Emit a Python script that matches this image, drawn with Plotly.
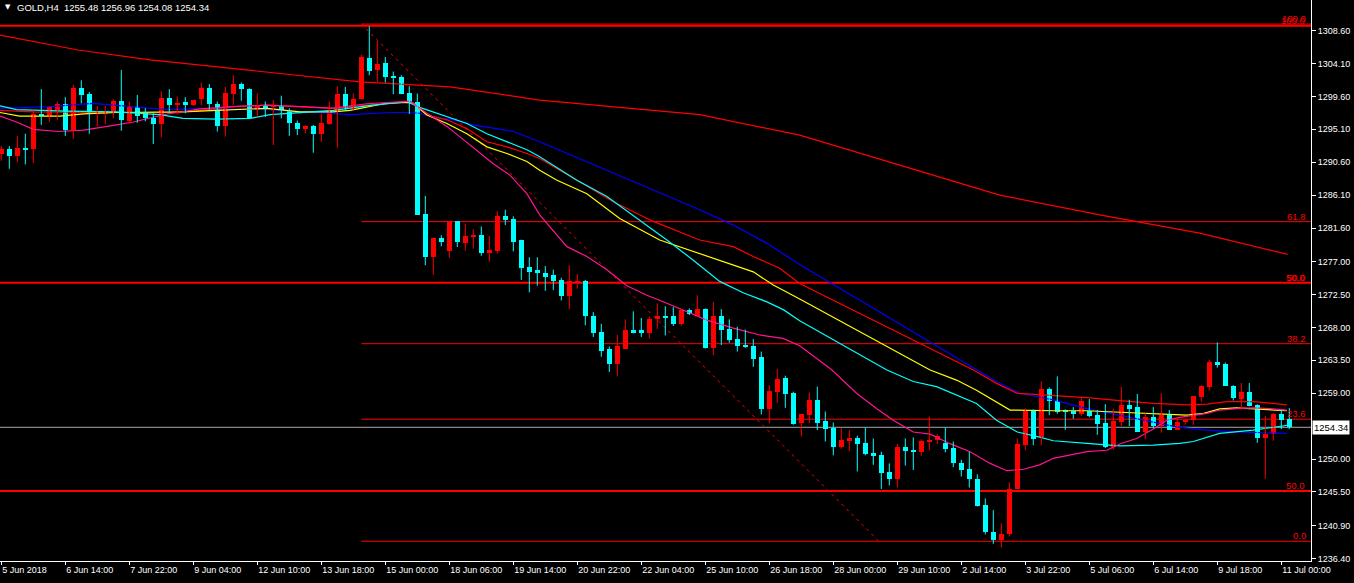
import plotly.graph_objects as go

# ---------------- DATA ----------------
opens = [1291.72,1292.45,1291.45,1292.6,1292.45,1297.2,1296.9,1297.8,1298.6,1295.0,
         1300.75,1299.9,1297.2,1297.3,1297.5,1298.97,1296.2,1298.1,1297.3,1296.7,
         1295.8,1299.4,1298.4,1298.8,1298.4,1299.25,1300.75,1298.6,1295.6,1300.0,
         1301.3,1300.6,1297.97,1298.4,1298.2,1298.3,1297.65,1296.0,1295.1,1295.5,
         1294.5,1295.8,1297.65,1299.9,1297.97,1299.3,1304.9,1303.2,1304.2,1302.4,
         1302.3,1300.1,1298.9,1283.5,1277.7,1280.3,1278.4,1282.5,1279.6,1280.4,
         1280.6,1278.2,1278.5,1283.2,1282.8,1279.9,1276.2,1275.8,1275.5,1275.2,
         1274.5,1272.3,1274.2,1274.4,1269.6,1267.4,1265.05,1263.0,1265.05,1267.65,
         1267.6,1267.3,1269.1,1269.6,1269.5,1268.5,1270.4,1269.5,1270.5,1265.2,
         1269.5,1267.8,1266.4,1265.6,1265.5,1263.9,1256.8,1259.2,1261.1,1259.0,
         1254.9,1256.0,1258.07,1255.2,1254.3,1251.7,1252.5,1252.9,1252.2,1250.8,
         1250.5,1248.2,1247.3,1251.6,1251.1,1251.0,1252.4,1252.6,1252.2,1251.5,
         1249.5,1248.6,1247.3,1243.7,1240.0,1238.9,1239.8,1245.9,1251.9,1256.6,
         1253.06,1259.6,1257.9,1256.7,1256.6,1256.2,1256.6,1256.0,1254.9,1251.7,
         1255.1,1257.4,1257.1,1253.7,1255.7,1254.5,1256.0,1254.0,1255.1,1255.4,
         1258.5,1259.9,1263.3,1263.0,1260.0,1258.2,1259.2,1257.4,1252.9,1253.4,
         1256.2,1255.48]
highs = [1292.8,1292.8,1294.2,1294.5,1297.7,1300.6,1298.2,1298.9,1299.5,1301.2,
         1301.8,1300.2,1298.3,1298.3,1299.2,1303.2,1298.9,1299.8,1298.0,1297.3,
         1300.3,1300.6,1299.6,1299.5,1299.1,1301.5,1301.3,1298.9,1300.9,1302.5,
         1301.5,1300.7,1300.0,1298.9,1299.1,1299.7,1297.97,1296.3,1295.7,1295.7,
         1297.2,1298.9,1301.0,1300.9,1300.0,1305.3,1309.2,1307.2,1305.0,1303.0,
         1302.5,1301.0,1300.0,1286.0,1280.3,1280.6,1282.5,1282.5,1282.2,1281.4,
         1281.8,1280.5,1283.9,1284.1,1283.2,1280.0,1277.6,1277.6,1276.4,1275.9,
         1274.8,1276.5,1275.3,1274.5,1270.1,1268.5,1265.4,1266.96,1269.1,1270.2,
         1269.3,1269.5,1271.3,1270.9,1270.8,1270.5,1270.6,1272.4,1270.6,1271.5,
         1270.5,1269.1,1268.1,1267.7,1266.4,1264.7,1260.1,1262.3,1261.4,1259.2,
         1256.15,1259.07,1259.9,1256.5,1255.0,1254.3,1253.96,1253.2,1254.3,1252.8,
         1251.0,1249.4,1252.05,1252.8,1252.96,1252.7,1255.8,1253.4,1254.3,1252.4,
         1249.9,1251.0,1247.9,1244.6,1243.0,1241.2,1246.8,1252.8,1256.9,1256.8,
         1260.6,1259.8,1261.3,1256.8,1257.1,1258.5,1258.2,1256.7,1257.5,1256.9,
         1259.9,1258.1,1258.9,1256.25,1257.1,1259.0,1256.7,1255.7,1255.4,1258.6,
         1260.1,1263.6,1265.96,1263.2,1260.1,1260.4,1260.4,1257.5,1255.9,1256.3,
         1256.7,1256.96]
lows = [1290.8,1289.7,1290.6,1290.3,1290.5,1295.7,1296.1,1296.4,1294.2,1293.8,
        1298.65,1294.5,1295.5,1295.8,1296.6,1294.9,1295.9,1296.0,1296.2,1293.1,
        1294.0,1297.3,1297.1,1297.3,1298.3,1298.4,1297.8,1294.8,1294.1,1298.4,
        1299.0,1296.5,1296.8,1296.8,1292.95,1296.6,1294.2,1294.3,1294.55,1291.9,
        1293.4,1295.7,1292.6,1297.65,1297.65,1299.2,1302.5,1301.6,1301.5,1299.9,
        1299.9,1297.2,1283.4,1276.5,1275.2,1279.1,1277.5,1279.0,1278.5,1278.8,
        1277.8,1277.0,1278.1,1282.0,1278.4,1274.5,1272.8,1273.7,1273.0,1273.1,
        1271.7,1270.5,1273.3,1268.3,1266.7,1264.0,1261.9,1261.3,1265.05,1267.2,
        1266.7,1266.5,1267.8,1266.9,1268.2,1268.2,1269.7,1269.5,1265.1,1264.2,
        1265.6,1265.9,1264.7,1265.2,1262.6,1256.1,1254.9,1257.7,1257.0,1254.7,
        1253.1,1254.9,1253.96,1252.4,1250.5,1251.4,1251.1,1248.3,1250.5,1249.2,
        1245.9,1246.4,1246.1,1249.1,1248.5,1250.45,1251.2,1252.05,1250.9,1248.9,
        1247.6,1246.1,1243.5,1239.7,1238.4,1237.9,1239.4,1245.9,1251.2,1251.9,
        1251.9,1256.0,1256.2,1254.0,1255.5,1255.9,1255.7,1253.3,1251.5,1251.3,
        1254.5,1254.5,1253.7,1252.7,1254.2,1253.6,1254.0,1254.0,1254.7,1254.65,
        1257.85,1259.35,1262.5,1260.0,1258.0,1256.8,1257.2,1252.2,1247.3,1252.5,
        1254.1,1254.08]
closes = [1292.45,1291.45,1292.6,1292.4,1297.2,1296.9,1298.1,1298.6,1295.0,1300.75,
          1299.8,1297.2,1297.5,1297.5,1298.97,1296.4,1298.2,1296.9,1296.6,1295.8,
          1299.4,1298.4,1298.75,1298.4,1299.1,1300.75,1298.6,1295.6,1300.1,1301.3,
          1300.6,1296.6,1298.3,1297.8,1298.4,1297.7,1295.9,1295.1,1295.5,1294.5,
          1296.0,1297.8,1299.9,1297.97,1299.3,1304.95,1303.1,1304.1,1302.2,1302.1,
          1299.9,1298.9,1283.4,1277.7,1280.3,1279.7,1282.5,1279.7,1280.5,1280.6,
          1278.2,1278.6,1283.2,1282.7,1279.7,1276.1,1275.6,1275.5,1274.9,1274.4,
          1272.3,1274.4,1274.4,1269.5,1267.2,1264.8,1263.0,1265.4,1267.6,1267.3,
          1267.3,1269.15,1269.6,1269.4,1268.5,1270.4,1269.8,1270.5,1265.2,1269.5,
          1267.65,1266.3,1265.4,1265.4,1263.7,1256.8,1259.3,1260.9,1258.9,1254.8,
          1256.15,1258.07,1254.97,1254.1,1251.7,1252.6,1252.9,1252.1,1250.7,1250.4,
          1248.1,1247.3,1251.6,1251.1,1251.0,1252.5,1252.6,1253.1,1251.4,1249.5,
          1248.5,1247.2,1243.6,1239.96,1238.9,1239.8,1245.9,1252.05,1256.7,1252.7,
          1259.6,1257.9,1256.5,1256.4,1256.2,1257.9,1255.9,1254.8,1251.6,1255.2,
          1257.4,1256.9,1253.7,1255.7,1254.5,1256.0,1254.0,1255.1,1255.15,1258.6,
          1260.0,1263.3,1262.9,1260.0,1258.3,1259.2,1257.25,1252.9,1253.4,1256.2,
          1255.4,1254.34]

# moving averages (bar position, price)
ma_blue_x = [-0.16,6.1,11.5,16.5,20.7,24.8,33.2,43.6,48.6,50.7,52.3,54,56.5,59,61.5,64,67.3,
             78.6,83.2,87.3,91.5,95.7,99.8,121.9,124.4,127.3,131.5,135.7,139.8,144,146.9,150.3,154.4,160.7]
ma_blue_y = [1297.97,1298.2,1298.65,1298.2,1297.8,1297.9,1297.8,1297.1,1297.4,1297.4,1297.3,1296.8,1296.4,1295.7,1295.2,1294.8,1293.4,
             1288.17,1286.1,1284.1,1282.0,1279.5,1276.6,1262.17,1260.6,1258.99,1258.1,1256.9,1256.0,1255.1,1254.4,1254.0,1253.7,1253.5]

ma_red_x = [-0.16,4,12.3,20.7,24.8,29,33.2,41.5,45.7,49.8,51.5,53.2,55.7,58.2,60.7,63.2,65.7,67.3,
            71.9,76.5,81.5,87.3,91.5,94,97.3,99.8,121.5,124.4,127,131.5,135.7,139.8,144,148.2,150.7,153.2,156.5,159,160.7]
ma_red_y = [1297.7,1297.5,1297.4,1297.4,1297.7,1298.2,1298.4,1297.97,1298.4,1298.75,1298.6,1297.05,1296.4,1295.2,1293.4,1292.7,1291.8,1291.1,
            1288.17,1285.2,1282.5,1279.96,1279.05,1277.7,1276.1,1274.0,1262.17,1260.35,1258.98,1258.7,1258.4,1258.0,1257.6,1257.4,1257.5,1257.85,1257.85,1257.6,1257.4]

ma_yellow_x = [-0.16,2.3,7.3,10.3,14.4,22.7,26.9,33.2,37.3,41.5,43.6,45.7,47.8,50.7,51.5,53.2,55.7,58.2,60.7,63.2,65.7,67.3,
               69.4,73.2,77.3,82.3,87.3,91.5,94,96.5,99.8,116.1,119.4,121.9,124.4,126.1,131.5,135.7,139.8,144,148.2,150.3,152.3,154.4,156.5,159,160.7]
ma_yellow_y = [1297.4,1296.9,1296.9,1297.2,1297.4,1297.5,1297.7,1297.97,1297.5,1297.5,1297.7,1298.2,1298.6,1298.8,1298.65,1297.05,1295.9,1294.5,1292.7,1291.8,1290.7,1289.5,
               1288.17,1286.3,1282.9,1279.96,1278.1,1276.5,1275.6,1273.8,1271.9,1262.17,1260.8,1259.4,1257.8,1256.7,1256.6,1256.6,1256.4,1256.2,1256.0,1256.25,1256.85,1257.0,1256.9,1256.7,1256.6]

ma_cyan_x = [-0.16,1.9,8.2,14.4,19.8,22.7,26.9,31.1,33.6,37.3,41.5,45.7,49.8,50.7,52.3,55.7,58.2,60.7,63.2,65.7,67.3,
             71.9,75.7,79.8,83.2,86.5,89.8,92.8,95.7,97.8,99.8,110.7,114,116.9,119.4,121.9,124.4,127,129.8,131.5,135.7,139.8,144,147.3,149,150.7,152.3,156.5,159.8,161]
ma_cyan_y = [1298.3,1297.8,1297.6,1297.5,1297.1,1296.6,1296.5,1296.6,1297.1,1297.4,1297.7,1298.3,1298.75,1298.9,1298.1,1296.8,1295.9,1294.5,1293.4,1292.3,1291.35,
             1288.17,1285.9,1282.7,1279.96,1277.2,1274.3,1272.7,1271.5,1270.4,1268.9,1262.17,1260.6,1259.9,1258.75,1257.6,1255.3,1253.7,1253.0,1252.5,1252.15,1251.8,1251.9,1252.15,1252.4,1252.96,1253.5,1253.95,1254.4,1254.65]

ma_pink_x = [-0.16,1.9,4,7.1,10.3,12.3,14.4,16.5,18.6,20.7,22.7,24.8,29,33.2,41.5,45.7,51.1,53.2,55.7,57.3,59.4,61.5,63.6,65.7,67.3,
             70.7,73.2,75.7,78.2,80.7,83.2,85.7,88.2,91.5,94.8,97.7,99.8,103.8,106.9,109.4,111.5,114,116.1,118.6,121.1,123.6,125.7,127.8,129.8,
             131.5,135.7,138.2,139.8,141.9,144,145.7,147.3,150.7,152.3,154.4,156.5,158.6,160.7]
ma_pink_y = [1296.9,1296.1,1295.1,1294.8,1295.0,1295.3,1295.7,1296.1,1296.6,1297.2,1297.5,1297.9,1298.2,1298.4,1298.0,1298.6,1298.95,1297.3,1295.5,1294.1,1292.3,1290.4,1288.8,1286.3,1283.4,
             1279.05,1277.7,1275.9,1273.7,1272.4,1271.3,1270.2,1269.0,1267.9,1266.97,1266.5,1265.5,1262.2,1259.0,1256.9,1255.3,1253.7,1253.4,1252.1,1251.0,1249.4,1248.4,1248.6,1249.2,
             1250.1,1251.0,1251.2,1252.05,1252.8,1254.1,1255.3,1255.7,1256.25,1256.7,1256.9,1257.0,1256.9,1256.7]

ma_long_x = [-0.16,9.6,18.6,33.6,44.8,56.1,67.3,87.3,99.8,112.3,124.8,137.3,149.8,160.8]
ma_long_y = [1308.0,1305.95,1304.6,1302.9,1301.6,1300.9,1299.1,1297.1,1294.3,1290.2,1286.1,1283.4,1280.9,1278.0]

# Fibonacci retracement
fib_start_bar, fib_end_bar = 45, 109.7
fib_high, fib_low = 1309.5, 1238.75
fib_levels = [0.0, 23.6, 38.2, 50.0, 61.8, 100.0]
thick_levels = [1309.27, 1274.12, 1245.62]
thick_labels = ["100.0", "50.0", "50.0"]
last_price = 1254.34

y_ticks = [1308.60,1304.10,1299.60,1295.10,1290.60,1286.10,1281.60,1277.00,1272.50,
           1268.00,1263.50,1259.00,1250.00,1245.50,1240.90,1236.40]
x_tick_bars = list(range(0, 161, 8))
x_tick_text = ["5 Jun 2018","6 Jun 14:00","7 Jun 22:00","9 Jun 04:00","12 Jun 10:00",
               "13 Jun 18:00","15 Jun 00:00","18 Jun 06:00","19 Jun 14:00","20 Jun 22:00",
               "22 Jun 04:00","25 Jun 10:00","26 Jun 18:00","28 Jun 00:00","29 Jun 10:00",
               "2 Jul 14:00","3 Jul 22:00","5 Jul 06:00","6 Jul 14:00","9 Jul 18:00","11 Jul 00:00"]
title_text = "GOLD,H4  1255.48 1256.96 1254.08 1254.34"

# ---------------- FIGURE ----------------
UP, DOWN = "#FF0000", "#00FFFF"
FONT = "Liberation Sans"
n = len(opens)
bars = list(range(n))

fig = go.Figure()

shapes = []
for lv in thick_levels:
    shapes.append(dict(type="line", xref="paper", x0=0, x1=1, yref="y", y0=lv, y1=lv,
                       line=dict(color="#FF0000", width=2), layer="below"))
for lv in fib_levels:
    price = fib_low + (fib_high - fib_low) * lv / 100.0
    shapes.append(dict(type="line", xref="x", x0=fib_start_bar, x1=163.7, yref="y", y0=price, y1=price,
                       line=dict(color="#FF0000", width=1), layer="below"))
shapes.append(dict(type="line", xref="x", x0=fib_start_bar, x1=fib_end_bar, yref="y", y0=fib_high, y1=fib_low,
                   line=dict(color="#FF0000", width=1, dash="3px,4px"), layer="below"))
shapes.append(dict(type="line", xref="paper", x0=0, x1=1, yref="y", y0=last_price, y1=last_price,
                   line=dict(color="#A8A8A8", width=1), layer="below"))

for xs, ys, col in [(ma_long_x, ma_long_y, "#FF0000"), (ma_blue_x, ma_blue_y, "#0000FF"),
                    (ma_red_x, ma_red_y, "#FF0000"), (ma_yellow_x, ma_yellow_y, "#FFFF00"),
                    (ma_cyan_x, ma_cyan_y, "#00FFFF"), (ma_pink_x, ma_pink_y, "#FF1493")]:
    fig.add_trace(go.Scatter(x=xs, y=ys, mode="lines", line=dict(color=col, width=1.2),
                             hoverinfo="skip", showlegend=False))

for col, cond in [(UP, True), (DOWN, False)]:
    wx, wy = [], []
    for i in bars:
        if (closes[i] >= opens[i]) == cond:
            wx += [i, i, None]
            wy += [lows[i], highs[i], None]
    fig.add_trace(go.Scatter(x=wx, y=wy, mode="lines", line=dict(color=col, width=1),
                             hoverinfo="skip", showlegend=False))

bases = [min(o, c) for o, c in zip(opens, closes)]
heights = [max(abs(c - o), 0.13) for o, c in zip(opens, closes)]
colors = [UP if c >= o else DOWN for o, c in zip(opens, closes)]
fig.add_trace(go.Bar(x=bars, y=heights, base=bases, width=0.625,
                     marker=dict(color=colors, line=dict(width=0)), showlegend=False,
                     hoverinfo="skip"))

annotations = []
for lv in fib_levels:
    price = fib_low + (fib_high - fib_low) * lv / 100.0
    annotations.append(dict(xref="paper", x=0.998, yref="y", y=price, text=f"{lv:.1f}",
                            xanchor="right", yanchor="bottom", showarrow=False,
                            font=dict(color="#FF0000", size=9.5, family=FONT), yshift=-2))
for lv, txt in zip(thick_levels, thick_labels):
    annotations.append(dict(xref="paper", x=0.998, yref="y", y=lv, text=txt, xshift=-1,
                            xanchor="right", yanchor="bottom", showarrow=False,
                            font=dict(color="#FF0000", size=9.5, family=FONT), yshift=-2))
annotations.append(dict(xref="paper", x=1.0, yref="y", y=last_price, text=f"{last_price:.2f}",
                        xanchor="left", yanchor="middle", showarrow=False, xshift=1,
                        bgcolor="#FFFFFF", borderpad=1,
                        font=dict(color="#000000", size=9.5, family=FONT)))
annotations.append(dict(xref="paper", yref="paper", x=0.0, y=1.0, xshift=3, yshift=-1,
                        text="\u25BC", xanchor="left", yanchor="top", showarrow=False,
                        font=dict(color="#FFFFFF", size=7, family="DejaVu Sans")))
annotations.append(dict(xref="paper", yref="paper", x=0.0, y=1.0, xshift=15, yshift=0,
                        text=title_text, xanchor="left", yanchor="top", showarrow=False,
                        font=dict(color="#FFFFFF", size=9.5, family=FONT)))

fig.update_layout(
    width=1354, height=583,
    margin=dict(l=0, r=43, t=0, b=22, autoexpand=False),
    paper_bgcolor="#000000", plot_bgcolor="#000000",
    showlegend=False, bargap=0,
    shapes=shapes, annotations=annotations,
    xaxis=dict(range=[-0.1625, 163.7125], tickmode="array", tickvals=x_tick_bars,
               ticktext=x_tick_text, ticks="outside", ticklen=3, tickcolor="#FFFFFF",
               ticklabelposition="outside right", automargin=False,
               showline=True, linecolor="#FFFFFF", linewidth=1, showgrid=False,
               zeroline=False, tickfont=dict(color="#FFFFFF", size=9, family=FONT),
               fixedrange=True),
    yaxis=dict(range=[1236.05, 1312.79], side="right", tickmode="array",
               tickvals=y_ticks, ticktext=[f"{v:.2f}" for v in y_ticks], automargin=False,
               ticks="outside", ticklen=4, tickcolor="#FFFFFF",
               showline=True, linecolor="#FFFFFF", linewidth=1, showgrid=False,
               zeroline=False, tickfont=dict(color="#FFFFFF", size=9, family=FONT),
               fixedrange=True),
)

fig.write_html("out.html", config={"displayModeBar": False},
               post_script="document.body.style.margin='0';document.body.style.overflow='hidden';"
                           "document.body.style.background='#000';")
